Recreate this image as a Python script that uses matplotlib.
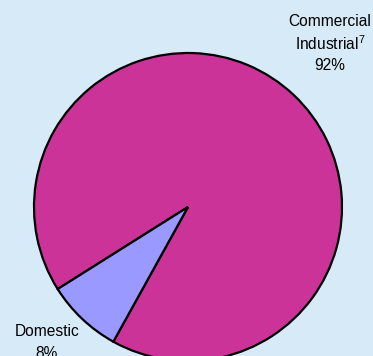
import matplotlib
matplotlib.use('Agg')
from matplotlib import pyplot as plt

# data
categories = ['Commercial\nIndustrial$^7$', 'Domestic']
shares = [92, 8]
colors = ['#CC3399', '#9999FF']
bg = '#D6EAF8'

plt.rcParams['font.family'] = ['Liberation Sans', 'DejaVu Sans']
plt.rcParams['mathtext.fontset'] = 'custom'
plt.rcParams['mathtext.rm'] = 'Liberation Sans'
plt.rcParams['mathtext.it'] = 'Liberation Sans'

fig = plt.figure(figsize=(3.73, 3.56), dpi=100)
fig.patch.set_facecolor(bg)
ax = fig.add_axes([0, 0, 1, 1])
ax.set_facecolor(bg)

# pixel-like coordinates, y upward
ax.pie(shares, colors=colors, startangle=241, counterclock=True,
	center=(188, 149), radius=154,
	wedgeprops=dict(edgecolor='black', linewidth=1.6))
ax.set_aspect('auto')
ax.set_xlim(0, 373)
ax.set_ylim(0, 356)
ax.axis('off')

def label(x, y, text, step=22):
	lines = text.split('\n')
	for i, line in enumerate(lines):
		ax.text(x, y - i * step, line, ha='center', va='center', fontsize=11.2)

label(330, 334, categories[0] + '\n' + str(shares[0]) + '%')
label(47, 24, categories[1] + '\n' + str(shares[1]) + '%')

fig.savefig('out.png', dpi=100, facecolor=bg)
